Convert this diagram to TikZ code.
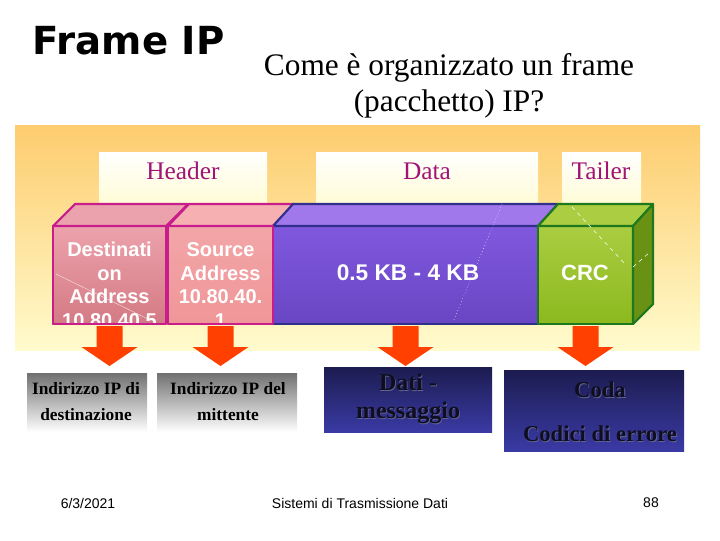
\documentclass[tikz,border=0pt]{standalone}
\usepackage{fontspec}
\setmainfont{Liberation Serif}
\setsansfont{Liberation Sans}
\newfontfamily\titlefont{DejaVu Sans}
\usetikzlibrary{fit}

\definecolor{bandtop}{RGB}{253,204,110}
\definecolor{bandbot}{RGB}{255,251,205}
\definecolor{lblbot}{RGB}{255,252,215}
\definecolor{hdrpurple}{RGB}{160,20,120}
\definecolor{destfront}{RGB}{212,122,132}
\definecolor{desttop}{RGB}{236,162,172}
\definecolor{srcfront}{RGB}{240,150,152}
\definecolor{srctop}{RGB}{246,176,178}
\definecolor{hdredge}{RGB}{200,30,140}
\definecolor{datafront}{RGB}{105,70,195}
\definecolor{datalight}{RGB}{128,88,222}
\definecolor{datatop}{RGB}{160,120,235}
\definecolor{dataedge}{RGB}{48,48,140}
\definecolor{crcfront}{RGB}{140,185,30}
\definecolor{crctop}{RGB}{170,205,65}
\definecolor{crcside}{RGB}{105,145,20}
\definecolor{crcedge}{RGB}{30,120,30}
\definecolor{arrowred}{RGB}{255,64,0}
\definecolor{navytop}{RGB}{28,28,80}
\definecolor{navybot}{RGB}{58,58,165}
\definecolor{navytext}{RGB}{14,14,30}
\definecolor{navyshadow}{RGB}{100,100,150}

\tikzset{
  labelbox/.style={inner sep=0pt, top color=white, bottom color=lblbot},
  labeltext/.style={text=hdrpurple, font=\fontsize{19}{22}\selectfont},
  face/.style={inner sep=0pt, outer sep=0pt, line width=1.6pt, line join=round},
  cubetext/.style={text=white, align=center, font=\sffamily\bfseries\fontsize{15}{17.6}\selectfont},
  graybox/.style={inner sep=0pt, top color={rgb,255:red,112;green,112;blue,112}, bottom color=white},
  graytext/.style={align=center, font=\bfseries\fontsize{13}{19.5}\selectfont},
  navybox/.style={inner sep=0pt, top color=navytop, bottom color=navybot},
  footer/.style={font=\sffamily\fontsize{10.5}{12}\selectfont}
}

\begin{document}
\begin{tikzpicture}[x=0.75pt,y=-0.75pt]
    \useasboundingbox (0,0) rectangle (720,540);
    % titles
    \node[anchor=west, font=\titlefont\bfseries\fontsize{29}{32}\selectfont] (title) at (28,41) {Frame IP};
    \node[align=center, font=\fontsize{23.5}{27}\selectfont] (question) at (449,86) {Come è organizzato un frame\\(pacchetto) IP?};
    % band
    \shade[top color=bandtop, bottom color=bandbot] (15,125) rectangle (700,350);
    \node[labelbox, fit={(99,152) (267,202)}] (hdrbox) {};
    \node[labelbox, fit={(316,152) (538,202)}] (databox) {};
    \node[labelbox, fit={(562,152) (641,202)}] (tailbox) {};
    \node[labeltext] (hdr) at (183,171) {Header};
    \node[labeltext] (datalbl) at (427,171) {Data};
    \node[labeltext] (tail) at (601,171) {Tailer};
    % cubes
    \node[face, draw=hdredge, top color=desttop, bottom color=destfront, fit={(53,226) (166,324)}] (dest) {};
    \draw[face, draw=hdredge, fill=desttop] (dest.north west) -- ++(22,-22) -- ([shift={(22,-22)}]dest.north east) -- (dest.north east) -- cycle;
    \node[face, draw=hdredge, top color=srcfront!85!white, bottom color=srcfront, fit={(168,226) (273,324)}] (src) {};
    \draw[face, draw=hdredge, fill=srctop] (src.north west) -- ++(21,-22) -- ([shift={(21,-22)}]src.north east) -- (src.north east) -- cycle;
    \node[face, draw=dataedge, top color=datalight, bottom color=datafront, fit={(273,226) (538,324)}] (data) {};
    \draw[face, draw=dataedge, fill=datatop] (data.north west) -- ++(20,-22) -- ([shift={(20,-22)}]data.north east) -- (data.north east) -- cycle;
    \node[face, draw=crcedge, top color=crctop, bottom color=crcfront, fit={(538,226) (633,324)}] (crc) {};
    \draw[face, draw=crcedge, fill=crctop] (crc.north west) -- ++(20,-22) -- ([shift={(20,-22)}]crc.north east) -- (crc.north east) -- cycle;
    \draw[face, draw=crcedge, fill=crcside] (crc.north east) -- ++(20,-22) -- ([shift={(20,-20)}]crc.south east) -- (crc.south east) -- cycle;
    % cube texts
    \begin{scope}
      \clip (55,228) rectangle (164,323);
      \node[cubetext] (desttxt) at (109.5,285) {Destinati\\on\\Address\\10.80.40.5};
    \end{scope}
    \begin{scope}
      \clip (170,228) rectangle (271,323);
      \node[cubetext] (srctxt) at (220.5,285) {Source\\Address\\10.80.40.\\1};
    \end{scope}
    \draw[face, draw=hdredge, fill=none] (dest.south west) rectangle (dest.north east);
    \draw[face, draw=hdredge, fill=none] (src.south west) rectangle (src.north east);
    \node[cubetext, font=\sffamily\bfseries\fontsize{17}{20}\selectfont] (datatxt) at (408,273) {0.5 KB - 4 KB};
    \node[cubetext, font=\sffamily\bfseries\fontsize{16.5}{20}\selectfont] (crctxt) at (585,273) {CRC};
    % light streaks
    \draw[white, very thin] (56,274) -- (150,320);
    \draw[white, thin, dotted] (502,204) -- (453,322);
    \draw[white, thin, dashed] (572,207) -- (626,265);
    \draw[white, thin, dashed] (633,267) -- (650,252);
    % notes
    \node[graybox, fit={(27,373) (147,432)}] (ex1) {};
    \node[graybox, fit={(157,373) (297,432)}] (ex2) {};
    \node[navybox, fit={(324,367) (492,432)}] (ex3) {};
    \node[navybox, fit={(504,370) (684,451)}] (ex4) {};
    \node[graytext] (ex1txt) at (86,402) {Indirizzo IP di\\destinazione};
    \node[graytext] (ex2txt) at (228,402) {Indirizzo IP del\\mittente};
    \node[graytext, text=navyshadow, font=\bfseries\fontsize{18}{21}\selectfont] (ex3sh) at (408.8,399.8) {Dati -\\messaggio};
    \node[graytext, text=navytext, font=\bfseries\fontsize{18}{21}\selectfont] (ex3txt) at (408,399) {Dati -\\messaggio};
    \node[graytext, text=navyshadow, font=\bfseries\fontsize{17}{33}\selectfont] (ex4sh) at (600.8,412.8) {Coda\\Codici di errore};
    \node[graytext, text=navytext, font=\bfseries\fontsize{17}{33}\selectfont] (ex4txt) at (600,412) {Coda\\Codici di errore};
    % red arrows from the cubes to the notes
    \foreach \c in {dest,src,data,crc}
      \fill[arrowred] (\c.south) ++(-13,2) -- ++(26,0) -- ++(0,21) -- ++(15,0) -- ++(-28,19) -- ++(-28,-19) -- ++(15,0) -- cycle;
    % footer
    \node[footer] (date) at (88,503) {6/3/2021};
    \node[footer] (course) at (360,503) {Sistemi di Trasmissione Dati};
    \node[footer] (page) at (651,503) {88};
\end{tikzpicture}
\end{document}
